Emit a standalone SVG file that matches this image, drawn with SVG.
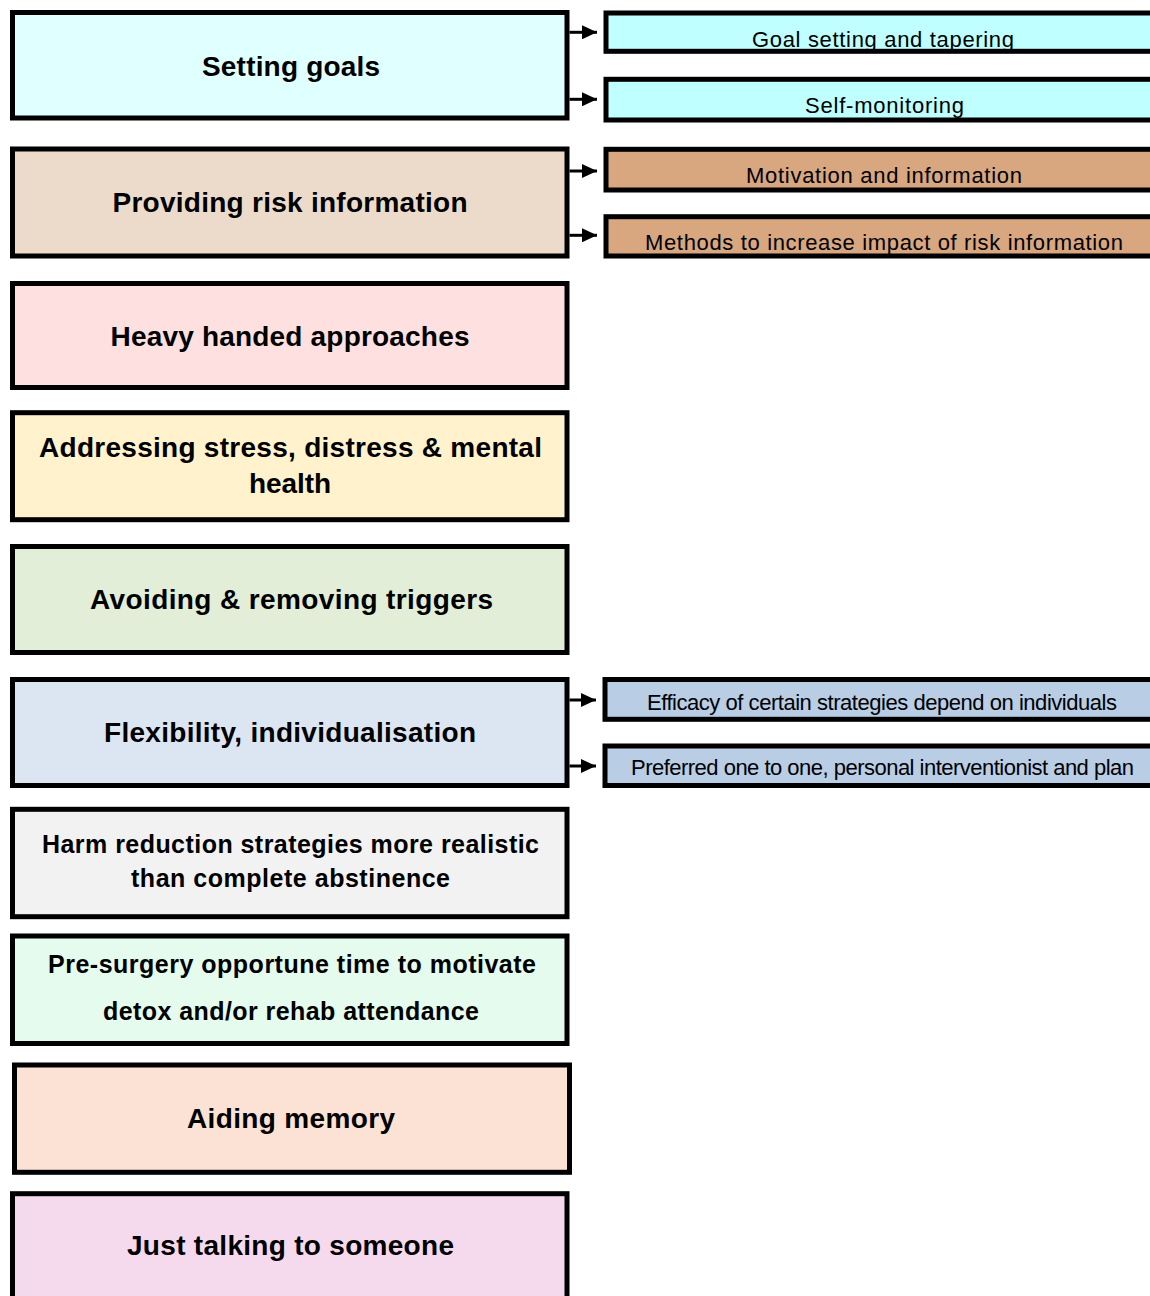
<svg xmlns="http://www.w3.org/2000/svg" width="1150" height="1296" viewBox="0 0 1150 1296">
  <style>
    .box { stroke: #000; stroke-width: 5; }
    .main { font-family: "Liberation Sans", Arial, sans-serif; font-weight: bold; font-size: 28px; fill: #000; text-anchor: middle; }
    .main.small { font-size: 25px; }
    .sub { font-family: "Liberation Sans", Arial, sans-serif; font-size: 22px; fill: #000; text-anchor: middle; }
    .conn { stroke: #000; stroke-width: 3; fill: none; }
  </style>
  <defs>
    <marker id="arrow" markerUnits="userSpaceOnUse" markerWidth="15" markerHeight="14" viewBox="0 0 15 14" refX="15" refY="7" orient="auto">
      <path d="M0,0 L15,7 L0,14 z" fill="#000"/>
    </marker>
  </defs>
  <rect width="1150" height="1296" fill="#fff"/>

  <!-- main categories -->
  <g id="setting-goals">
    <rect class="box" x="12.5" y="12.5" width="554.5" height="105.5" fill="#e0ffff"/>
    <text class="main" x="291" y="76" textLength="178" lengthAdjust="spacing">Setting goals</text>
  </g>
  <g id="risk-information">
    <rect class="box" x="12.5" y="149" width="554.5" height="107" fill="#ecdbca"/>
    <text class="main" x="290" y="212" textLength="355" lengthAdjust="spacing">Providing risk information</text>
  </g>
  <g id="heavy-handed">
    <rect class="box" x="12.5" y="283.5" width="554.5" height="104" fill="#fde0df"/>
    <text class="main" x="290" y="346" textLength="359" lengthAdjust="spacing">Heavy handed approaches</text>
  </g>
  <g id="stress-mental-health">
    <rect class="box" x="12.5" y="412.7" width="554.5" height="107" fill="#fff2cc"/>
    <text class="main" x="290.5" y="456.7" textLength="503" lengthAdjust="spacing">Addressing stress, distress &amp; mental</text>
    <text class="main" x="290" y="492.7" textLength="82" lengthAdjust="spacing">health</text>
  </g>
  <g id="avoiding-triggers">
    <rect class="box" x="12.5" y="546.5" width="554.5" height="106" fill="#e2eed8"/>
    <text class="main" x="291.5" y="609" textLength="403" lengthAdjust="spacing">Avoiding &amp; removing triggers</text>
  </g>
  <g id="flexibility">
    <rect class="box" x="12.5" y="679.5" width="554.5" height="106" fill="#dce6f2"/>
    <text class="main" x="290" y="742" textLength="372" lengthAdjust="spacing">Flexibility, individualisation</text>
  </g>
  <g id="harm-reduction">
    <rect class="box" x="12.5" y="809.3" width="554.5" height="107.4" fill="#f2f2f2"/>
    <text class="main small" x="290.5" y="853" textLength="497" lengthAdjust="spacing">Harm reduction strategies more realistic</text>
    <text class="main small" x="290.5" y="887" textLength="319" lengthAdjust="spacing">than complete abstinence</text>
  </g>
  <g id="pre-surgery">
    <rect class="box" x="12.5" y="936" width="554.5" height="107.5" fill="#e5fbed"/>
    <text class="main small" x="292" y="972.7" textLength="488" lengthAdjust="spacing">Pre-surgery opportune time to motivate</text>
    <text class="main small" x="291" y="1020" textLength="376" lengthAdjust="spacing">detox and/or rehab attendance</text>
  </g>
  <g id="aiding-memory">
    <rect class="box" x="14.5" y="1065" width="555" height="107.3" fill="#fbe2d5"/>
    <text class="main" x="291" y="1128.3" textLength="208" lengthAdjust="spacing">Aiding memory</text>
  </g>
  <g id="talking">
    <rect class="box" x="12.5" y="1193.7" width="554.5" height="130" fill="#f5daed"/>
    <text class="main" x="290.5" y="1255" textLength="327" lengthAdjust="spacing">Just talking to someone</text>
  </g>

  <!-- sub-themes -->
  <g id="goal-tapering">
    <rect class="box" x="606" y="13" width="557" height="38.3" fill="#bfffff"/>
    <text class="sub" x="883" y="47.3" textLength="262" lengthAdjust="spacing">Goal setting and tapering</text>
  </g>
  <g id="self-monitoring">
    <rect class="box" x="606" y="79.3" width="557" height="40.7" fill="#bfffff"/>
    <text class="sub" x="884.5" y="113.3" textLength="159" lengthAdjust="spacing">Self-monitoring</text>
  </g>
  <g id="motivation">
    <rect class="box" x="606" y="149.3" width="557" height="40.7" fill="#d8a67f"/>
    <text class="sub" x="884" y="182.7" textLength="276" lengthAdjust="spacing">Motivation and information</text>
  </g>
  <g id="impact-methods">
    <rect class="box" x="606" y="216.7" width="557" height="39.3" fill="#d8a67f"/>
    <text class="sub" x="884" y="250" textLength="478" lengthAdjust="spacing">Methods to increase impact of risk information</text>
  </g>
  <g id="efficacy">
    <rect class="box" x="605" y="679.5" width="558" height="39.8" fill="#b9cde5"/>
    <text class="sub" x="882" y="710" textLength="470" lengthAdjust="spacing">Efficacy of certain strategies depend on individuals</text>
  </g>
  <g id="one-to-one">
    <rect class="box" x="605" y="746" width="558" height="39.5" fill="#b9cde5"/>
    <text class="sub" x="882.5" y="775" textLength="503" lengthAdjust="spacing">Preferred one to one, personal interventionist and plan</text>
  </g>

  <!-- connectors -->
  <g id="connectors">
    <line class="conn" x1="569.5" y1="32.3" x2="597" y2="32.3" marker-end="url(#arrow)"/>
    <line class="conn" x1="569.5" y1="99.3" x2="597" y2="99.3" marker-end="url(#arrow)"/>
    <line class="conn" x1="569.5" y1="171" x2="597" y2="171" marker-end="url(#arrow)"/>
    <line class="conn" x1="569.5" y1="235.3" x2="597" y2="235.3" marker-end="url(#arrow)"/>
    <line class="conn" x1="569.5" y1="700" x2="596" y2="700" marker-end="url(#arrow)"/>
    <line class="conn" x1="569.5" y1="766" x2="596" y2="766" marker-end="url(#arrow)"/>
  </g>
</svg>
